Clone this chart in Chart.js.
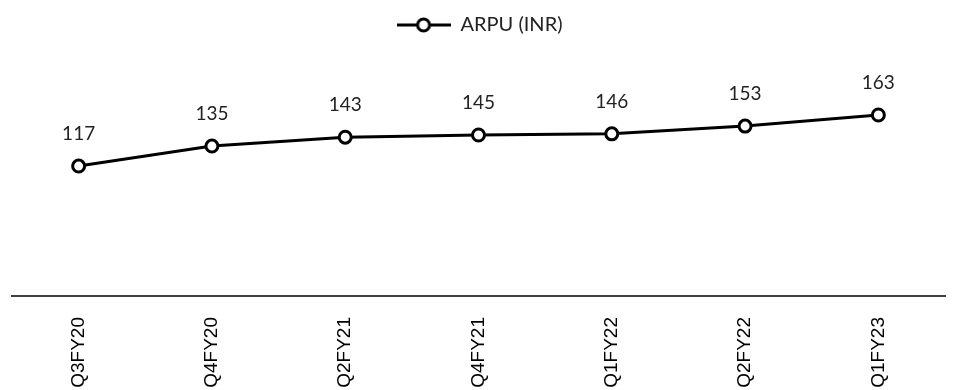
<!DOCTYPE html>
<html>
<head>
<meta charset="utf-8">
<script src="https://cdn.jsdelivr.net/npm/chart.js@4/dist/chart.umd.min.js"></script>
<style>
  html, body { margin: 0; padding: 0; background: #fff; }
  #wrap { width: 954px; height: 390px; }
</style>
</head>
<body>
<div id="wrap"><canvas id="arpuChart"></canvas></div>
<script>
const QUARTERS = ['Q3FY20', 'Q4FY20', 'Q2FY21', 'Q4FY21', 'Q1FY22', 'Q2FY22', 'Q1FY23']
const ARPU = [117, 135, 143, 145, 146, 153, 163]
const SERIES_NAME = 'ARPU (INR)'

// legend marker: line with hollow circle in the middle
function legendMarker() {
  const c = document.createElement('canvas')
  c.width = 54
  c.height = 18
  const ctx = c.getContext('2d')
  ctx.strokeStyle = '#000'
  ctx.lineWidth = 3
  ctx.beginPath()
  ctx.moveTo(0, 9)
  ctx.lineTo(54, 9)
  ctx.stroke()
  ctx.beginPath()
  ctx.arc(27, 9, 6, 0, Math.PI * 2)
  ctx.fillStyle = '#fff'
  ctx.fill()
  ctx.stroke()
  return c
}

// values written above each point
const valueLabels = {
  id: 'valueLabels',
  afterDatasetsDraw(chart) {
    const ctx = chart.ctx
    const meta = chart.getDatasetMeta(0)
    ctx.save()
    ctx.font = '19px Lato'
    ctx.fillStyle = '#222'
    ctx.textAlign = 'center'
    ctx.textBaseline = 'alphabetic'
    meta.data.forEach((pt, i) => {
      ctx.fillText(String(chart.data.datasets[0].data[i]), pt.x, pt.y - 26)
    })
    ctx.restore()
  }
}

const line = document.getElementById('arpuChart')

new Chart(line, {
  type: 'line',
  data: {
    labels: QUARTERS,
    datasets: [{
      label: SERIES_NAME,
      data: ARPU,
      borderColor: '#000',
      borderWidth: 3,
      backgroundColor: '#fff',
      pointRadius: 6,
      pointBorderWidth: 3,
      pointBackgroundColor: '#fff',
      pointBorderColor: '#000',
      tension: 0
    }]
  },
  options: {
    responsive: true,
    maintainAspectRatio: false,
    animation: false,
    layout: {
      padding: { left: 12, right: 7, top: 0, bottom: 0 }
    },
    plugins: {
      legend: {
        position: 'top',
        labels: {
          usePointStyle: true,
          pointStyle: legendMarker(),
          pointStyleWidth: 54,
          color: '#222',
          font: { family: 'Lato', size: 20 },
          padding: 15
        }
      },
      tooltip: { enabled: false }
    },
    scales: {
      x: {
        offset: true,
        grid: { display: false, drawTicks: false },
        border: { display: true, color: '#404040', width: 2 },
        ticks: {
          color: '#000',
          font: { family: "Arial, 'Liberation Sans', sans-serif", size: 19 },
          minRotation: 90,
          maxRotation: 90,
          padding: 21
        },
        afterFit(scale) {
          scale.height = 94
        }
      },
      y: {
        display: false,
        min: 0,
        max: 226
      }
    }
  },
  plugins: [valueLabels]
})
</script>
</body>
</html>
